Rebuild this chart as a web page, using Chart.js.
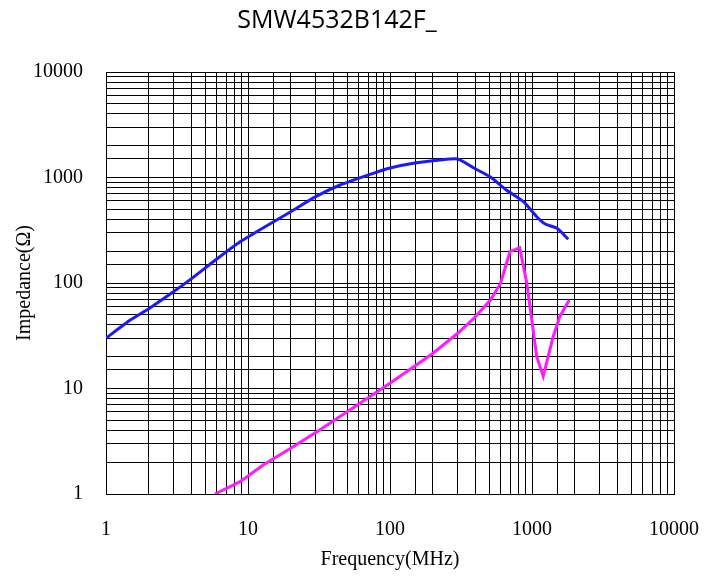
<!DOCTYPE html>
<html>
<head>
<meta charset="utf-8">
<script src="https://cdn.jsdelivr.net/npm/chart.js@4/dist/chart.umd.min.js"></script>
<style>
  html, body { margin: 0; padding: 0; background: #fff; }
  #wrap { width: 716px; height: 577px; }
</style>
</head>
<body>
<div id="wrap"><canvas id="chart" width="716" height="577"></canvas></div>
<script>
// values (MHz, ohm)
const blueFreq = [1, 1.5, 2, 3, 4, 6, 8.8, 11.5, 20, 30, 44.5, 76, 100, 150, 225, 300, 390, 510, 660, 870, 1080, 1240, 1500, 1800];
const blueZ    = [30, 45, 57, 83, 110, 168, 246, 306, 474, 658, 849, 1096, 1230, 1370, 1466, 1500, 1230, 1010, 760, 590, 425, 362, 330, 260];

const pinkFreq = [5.86, 8.8, 12.8, 20, 32, 60, 100, 200, 300, 390, 510, 600, 700, 820, 920, 1080, 1200, 1410, 1570, 1830];
const pinkZ    = [1, 1.31, 1.88, 2.71, 4.04, 7.1, 11.2, 21.5, 33.4, 46.3, 69, 99, 198, 216, 99, 20, 13.1, 31, 48, 69];

const decadeLabels = [1, 10, 100, 1000, 10000];

const toPoints = (xs, ys) => xs.map((x, i) => ({ x, y: ys[i] }));

const serif = { family: '"Liberation Serif", "Times New Roman", serif', size: 20 };

const onlyDecades = v => decadeLabels.includes(Math.round(v)) && Math.abs(v - Math.round(v)) < 1e-6 ? String(Math.round(v)) : '';

new Chart(document.getElementById('chart'), {
  type: 'line',
  data: {
    datasets: [
      {
        label: 'Z',
        data: toPoints(blueFreq, blueZ),
        borderColor: '#1a1aff',
        borderWidth: 3,
        pointRadius: 0,
        tension: 0.2,
        fill: false
      },
      {
        label: 'R',
        data: toPoints(pinkFreq, pinkZ),
        borderColor: '#ff1aff',
        borderWidth: 3,
        pointRadius: 0,
        tension: 0,
        fill: false
      }
    ]
  },
  options: {
    responsive: false,
    animation: false,
    layout: { padding: { left: 0, right: 42, top: 0, bottom: 0 } },
    plugins: {
      legend: { display: false },
      tooltip: { enabled: false },
      title: {
        display: true,
        text: 'SMW4532B142F_',
        color: '#000',
        font: { family: '"Open Sans", sans-serif', size: 25, weight: 'normal' },
        padding: { top: 6, bottom: 36 }
      }
    },
    scales: {
      x: {
        type: 'logarithmic',
        min: 1,
        max: 10000,
        border: { display: true, color: '#000', width: 1 },
        grid: { color: '#000', lineWidth: 1, drawTicks: false },
        ticks: {
          autoSkip: false,
          maxRotation: 0,
          padding: 24,
          color: '#000',
          font: serif,
          callback: onlyDecades
        },
        title: {
          display: true,
          text: 'Frequency(MHz)',
          color: '#000',
          font: serif,
          padding: { top: 0, bottom: 5 }
        },
        afterFit: s => {
          s.height = 83;
          s.paddingLeft = 0;
          s.paddingRight = 0;
        }
      },
      y: {
        type: 'logarithmic',
        min: 1,
        max: 10000,
        border: { display: true, color: '#000', width: 1 },
        grid: { color: '#000', lineWidth: 1, drawTicks: false },
        ticks: {
          autoSkip: false,
          padding: 23,
          color: '#000',
          font: serif,
          callback: onlyDecades
        },
        title: {
          display: true,
          text: 'Impedance(Ω)',
          color: '#000',
          font: serif,
          padding: { top: 13, bottom: 0 }
        },
        afterFit: s => { s.width = 106; }
      }
    }
  }
});
</script>
</body>
</html>
